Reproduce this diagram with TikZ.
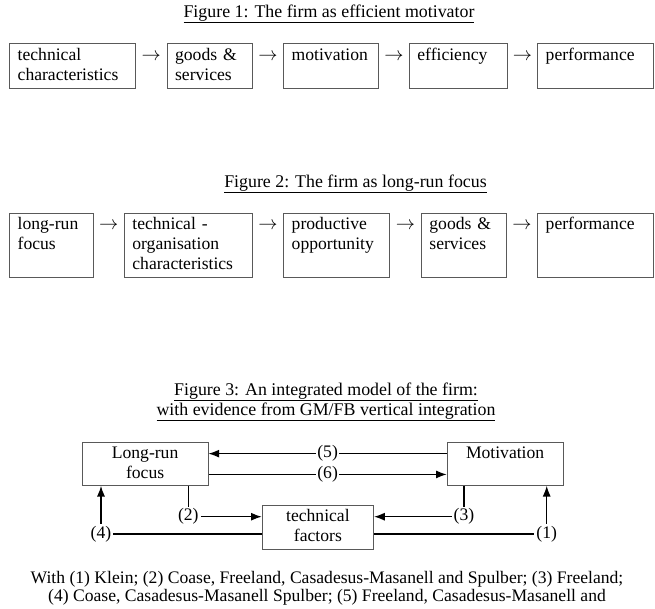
\documentclass[tikz,border=0pt]{standalone}
\usepackage{fontspec}
\setmainfont{Liberation Serif}
\usetikzlibrary{arrows.meta,calc}
\hyphenpenalty=10000
\tikzset{
 stage/.style={draw=black!65,line width=0.6pt,anchor=north west,align=left,inner xsep=6pt,inner ysep=0pt,text height=12.5pt},
 arr/.style={-{Latex[length=8pt,width=6pt]}},
 lab/.style={fill=white,inner sep=1.2pt},
 title/.style={anchor=base,font=\fontsize{13.4}{15}\selectfont},
 to/.style={anchor=base,inner sep=0pt,font=\fontsize{15}{15}\selectfont}
}

\begin{document}
\begin{tikzpicture}[x=0.75pt,y=-0.75pt,font=\fontsize{13.2}{15}\selectfont,line width=0.9pt]
 \useasboundingbox (0,0) rectangle (655,608);
 % figure 1
 \node[title] (t1) at (329,17) {\underline{Figure 1: The firm as efficient motivator}};
 \foreach \n/\x/\w/\t in {a/9.3/82.3/{technical\\characteristics},b/166.7/51.75/{goods \&\\services},
   c/283.3/59.25/{motivation},d/409/61.3/{efficiency},e/537.3/74.8/{performance}}{
  \node[stage,text width=\w pt,text depth=20.8pt] (f1\n) at (\x,43.3) {\t};
 }
 \foreach \p/\q in {a/b,b/c,c/d,d/e}{\path (f1\p.base east) -- node[to]{$\rightarrow$} (f1\q.base west);}
 % figure 2
 \node[title] (t2) at (355.5,187) {\underline{Figure 2: The firm as long-run focus}};
 \foreach \n/\x/\w/\t in {a/9.3/50.5/{long-run\\focus},b/124/83.8/{technical -\\organisation\\characteristics},
   c/283.3/67.5/{productive\\opportunity},d/421/51.75/{goods \&\\services},e/537.3/74.8/{performance}}{
  \node[stage,text width=\w pt,text depth=35.5pt] (f2\n) at (\x,212.7) {\t};
 }
 \foreach \p/\q in {a/b,b/c,c/d,d/e}{\path (f2\p.base east) -- node[to]{$\rightarrow$} (f2\q.base west);}
 % figure 3
 \node[title,align=center] (t3) at (326,415) {\underline{Figure 3: An integrated model of the firm:}\\\underline{with evidence from GM/FB vertical integration}};
 \node[stage,align=center,text width=82.5pt,text depth=20pt] (lr) at (81.7,441.7) {Long-run\\focus};
 \node[stage,align=center,text width=75pt,text depth=20pt] (mo) at (446.7,441.7) {Motivation};
 \node[stage,align=center,text width=71.7pt,text height=12pt,text depth=21pt] (tf) at (261.7,505) {technical\\factors};
 \node[lab] (n1) at (546.7,534) {(1)};
 \node[lab] (n2) at (188.3,516.7) {(2)};
 \node[lab] (n3) at (464,516.7) {(3)};
 \node[lab] (n4) at (101,534) {(4)};
 \draw[arr] ([yshift=7.6pt]mo.west) -- node[lab]{(5)} ([yshift=7.6pt]lr.east);
 \draw[arr] ([yshift=-8pt]lr.east) -- node[lab]{(6)} ([yshift=-8pt]mo.west);
 \draw (n2 |- lr.south) -- (n2);\draw[arr] (n2) -- (n2 -| tf.west);
 \draw (n3 |- mo.south) -- (n3);\draw[arr] (n3) -- (n3 -| tf.east);
 \draw (n4) -- (n4 -| tf.west);\draw[arr] (n4) -- (n4 |- lr.south);
 \draw (n1 -| tf.east) -- (n1);\draw[arr] (n1) -- (n1 |- mo.south);
 \node[anchor=base,align=center,font=\fontsize{13.2}{13.5}\selectfont] (note) at (327,601)
  {With (1) Klein; (2) Coase, Freeland, Casadesus-Masanell and Spulber; (3) Freeland;\\(4) Coase, Casadesus-Masanell Spulber; (5) Freeland, Casadesus-Masanell and};
\end{tikzpicture}
\end{document}
